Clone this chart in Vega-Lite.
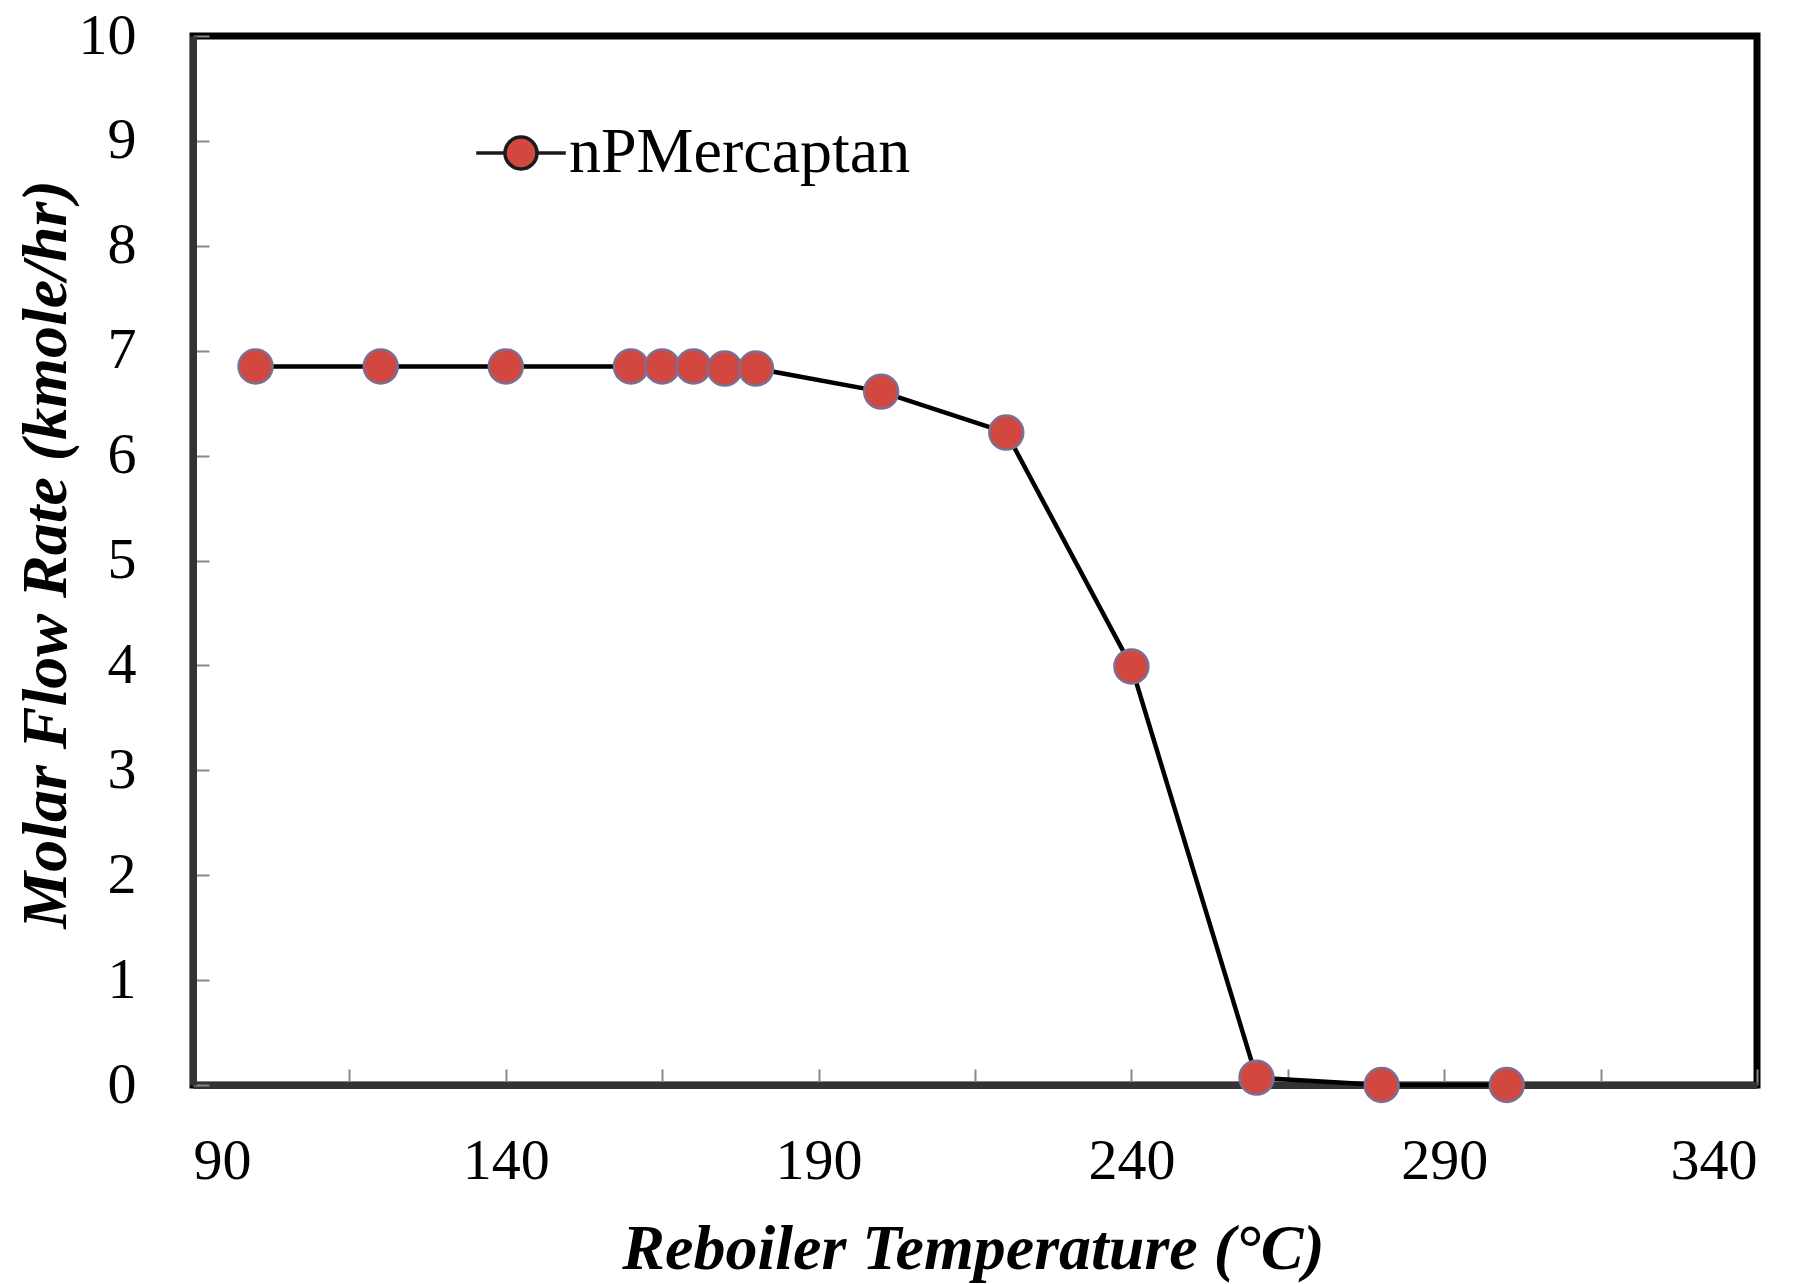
{
  "$schema": "https://vega.github.io/schema/vega-lite/v6.json",
  "width": 1564,
  "height": 1049,
  "autosize": {"type": "none"},
  "padding": {"left": 193, "top": 36, "right": 57, "bottom": 199},
  "background": "white",
  "config": {
    "font": "Liberation Serif",
    "view": {"stroke": "black", "strokeWidth": 7},
    "axis": {
      "grid": false,
      "labelFont": "Liberation Serif",
      "labelFontSize": 58,
      "labelColor": "black",
      "titleFont": "Liberation Serif",
      "titleFontSize": 64,
      "titleFontWeight": "bold",
      "titleFontStyle": "italic",
      "titleColor": "black",
      "domainColor": "#333333",
      "domainWidth": 7,
      "tickColor": "#888888",
      "tickWidth": 2,
      "tickSize": -16
    }
  },
  "data": {
    "values": [
      {"temp": 100, "flow": 6.85, "series": "nPMercaptan"},
      {"temp": 120, "flow": 6.85, "series": "nPMercaptan"},
      {"temp": 140, "flow": 6.85, "series": "nPMercaptan"},
      {"temp": 160, "flow": 6.85, "series": "nPMercaptan"},
      {"temp": 165, "flow": 6.85, "series": "nPMercaptan"},
      {"temp": 170, "flow": 6.85, "series": "nPMercaptan"},
      {"temp": 175, "flow": 6.83, "series": "nPMercaptan"},
      {"temp": 180, "flow": 6.83, "series": "nPMercaptan"},
      {"temp": 200, "flow": 6.61, "series": "nPMercaptan"},
      {"temp": 220, "flow": 6.22, "series": "nPMercaptan"},
      {"temp": 240, "flow": 3.99, "series": "nPMercaptan"},
      {"temp": 260, "flow": 0.07, "series": "nPMercaptan"},
      {"temp": 280, "flow": 0.0, "series": "nPMercaptan"},
      {"temp": 300, "flow": 0.0, "series": "nPMercaptan"}
    ]
  },
  "layer": [
    {
      "mark": {"type": "line", "color": "black", "strokeWidth": 4.5},
      "encoding": {
        "x": {
          "field": "temp",
          "type": "quantitative",
          "scale": {"domain": [90, 340], "nice": false, "zero": false},
          "axis": {
            "values": [90, 115, 140, 165, 190, 215, 240, 265, 290, 315, 340],
            "labelExpr": "(datum.value - 90) % 50 == 0 ? datum.label : ''",
            "labelPadding": 63,
            "labelBaseline": "top",
            "title": "Reboiler Temperature (°C)",
            "titleBaseline": "alphabetic",
            "titleY": 183,
            "titleX": 780,
            "titleAlign": "center"
          }
        },
        "y": {
          "field": "flow",
          "type": "quantitative",
          "scale": {"domain": [0, 10], "nice": false},
          "axis": {
            "values": [0, 1, 2, 3, 4, 5, 6, 7, 8, 9, 10],
            "format": "d",
            "labelPadding": 73,
            "labelAlign": "right",
            "labelBaseline": "middle",
            "title": "Molar Flow Rate (kmole/hr)",
            "titleAngle": 270,
            "titleBaseline": "alphabetic",
            "titleAlign": "center",
            "titleX": -128,
            "titleY": 518
          }
        }
      }
    },
    {
      "mark": {"type": "point", "filled": true, "shape": "circle", "size": 1150, "opacity": 1, "stroke": "#7d6e93", "strokeWidth": 2.5},
      "encoding": {
        "x": {"field": "temp", "type": "quantitative"},
        "y": {"field": "flow", "type": "quantitative"},
        "color": {
          "field": "series",
          "type": "nominal",
          "scale": {"domain": ["nPMercaptan"], "range": ["#d2473e"]},
          "legend": {
            "title": null,
            "orient": "none",
            "legendX": 296,
            "legendY": 85,
            "padding": 0,
            "symbolType": "M -1 0 A 1 1 0 1 1 1 0 A 1 1 0 1 1 -1 0 Z M -2.8 0 L -1 0 M 1 0 L 2.8 0",
            "symbolSize": 1024,
            "symbolStrokeColor": "#1a1a1a",
            "symbolStrokeWidth": 3.5,
            "symbolOpacity": 1,
            "labelFont": "Liberation Serif",
            "labelFontSize": 64,
            "labelColor": "black",
            "labelOffset": 16,
            "labelLimit": 0,
            "labelBaseline": "middle"
          }
        }
      }
    }
  ]
}
